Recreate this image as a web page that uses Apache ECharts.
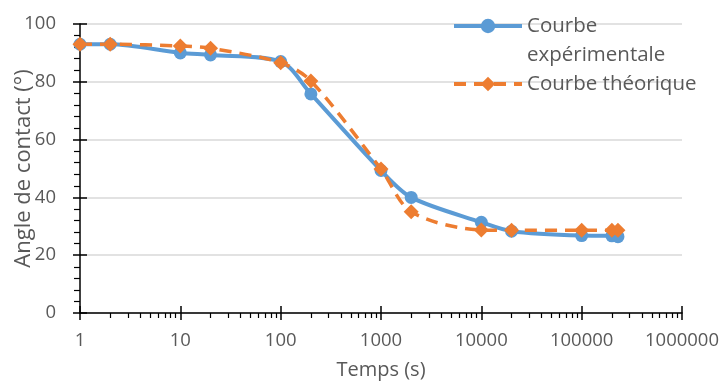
<!DOCTYPE html>
<html>
<head>
<meta charset="utf-8">
<script src="https://cdn.jsdelivr.net/npm/echarts@6/dist/echarts.min.js"></script>
<style>html,body{margin:0;padding:0;background:#fff}#c{width:725px;height:382px}</style>
</head>
<body>
<div id="c"></div>
<script>
const times = [1, 2, 10, 20, 100, 200, 1000, 2000, 10000, 20000, 100000, 200000, 230000];
const experimental = [93, 93, 90, 89.3, 87, 75.8, 49.3, 40, 31.4, 28.3, 26.8, 26.7, 26.4];
const theoretical = [93, 93, 92.4, 91.6, 86.6, 80.3, 49.8, 35, 28.7, 28.6, 28.6, 28.6, 28.6];
const seriesNames = ['Courbe expérimentale', 'Courbe théorique'];
const xAxisName = 'Temps (s)';
const yAxisName = 'Angle de contact (°)';

const FONT = "'Open Sans', 'Liberation Sans', sans-serif";
const TXT = '#595959';
const chart = echarts.init(document.getElementById('c'));
const pair = (xs, ys) => xs.map((x, i) => [x, ys[i]]);

chart.setOption({
  animation: false,
  grid: { left: 80, right: 43, top: 24, bottom: 69, containLabel: false, outerBoundsMode: 'none' },
  legend: {
    orient: 'vertical', left: 452, top: -17.5, itemGap: 0, padding: 0,
    itemWidth: 68, itemHeight: 18,
    data: seriesNames,
    lineStyle: { width: 4 },
    formatter: n => n === seriesNames[0] ? '\u00a0\nCourbe\nexpérimentale' : n,
    textStyle: { fontFamily: FONT, fontSize: 20.5, color: TXT, lineHeight: 29 }
  },
  xAxis: [{
    type: 'log', logBase: 10, min: 1, max: 1000000,
    name: xAxisName, nameLocation: 'middle', nameGap: 47, nameMoveOverlap: false,
    nameTextStyle: { fontFamily: FONT, fontSize: 20, color: TXT },
    axisLine: { lineStyle: { color: '#000', width: 1.5 } },
    axisTick: { show: true, inside: false, length: 7, lineStyle: { color: '#000', width: 1.5 } },
    minorTick: { show: true, splitNumber: 9, length: 5, lineStyle: { color: '#000', width: 1.2 } },
    axisLabel: { fontFamily: FONT, fontSize: 18.5, color: TXT, margin: 18, formatter: v => String(v) },
    splitLine: { show: false }
  }, {
    type: 'log', logBase: 10, min: 1, max: 1000000, position: 'bottom',
    axisLine: { show: false },
    axisTick: { show: true, inside: true, length: 7, lineStyle: { color: '#000', width: 1.5 } },
    axisLabel: { show: false }, splitLine: { show: false }
  }],
  yAxis: [{
    type: 'value', min: 0, max: 100, interval: 20,
    name: yAxisName, nameLocation: 'middle', nameGap: 45, nameMoveOverlap: false,
    nameTextStyle: { fontFamily: FONT, fontSize: 22, color: TXT },
    axisLine: { show: true, lineStyle: { color: '#000', width: 1.5 } },
    axisTick: { show: true, inside: false, length: 7, lineStyle: { color: '#000', width: 1.5 } },
    minorTick: { show: true, splitNumber: 5, length: 6, lineStyle: { color: '#000', width: 1.2 } },
    axisLabel: { fontFamily: FONT, fontSize: 18.5, color: TXT, margin: 24 },
    splitLine: { show: true, lineStyle: { color: '#d9d9d9', width: 1.5 } }
  }, {
    type: 'value', min: 0, max: 100, interval: 20, position: 'left',
    axisLine: { show: false },
    axisTick: { show: true, inside: true, length: 7, lineStyle: { color: '#000', width: 1.5 } },
    axisLabel: { show: false }, splitLine: { show: false }
  }],
  series: [{
    name: seriesNames[0], type: 'line', xAxisIndex: 0, yAxisIndex: 0,
    data: pair(times, experimental), smooth: 0.3,
    symbol: 'circle', symbolSize: 13,
    lineStyle: { color: '#5B9BD5', width: 4 },
    itemStyle: { color: '#5B9BD5' }
  }, {
    name: seriesNames[1], type: 'line', xAxisIndex: 0, yAxisIndex: 0,
    data: pair(times, theoretical), smooth: 0.3,
    symbol: 'diamond', symbolSize: 15,
    lineStyle: { color: '#ED7D31', width: 3.5, type: [12, 8] },
    itemStyle: { color: '#ED7D31' }
  }]
});
</script>
</body>
</html>
